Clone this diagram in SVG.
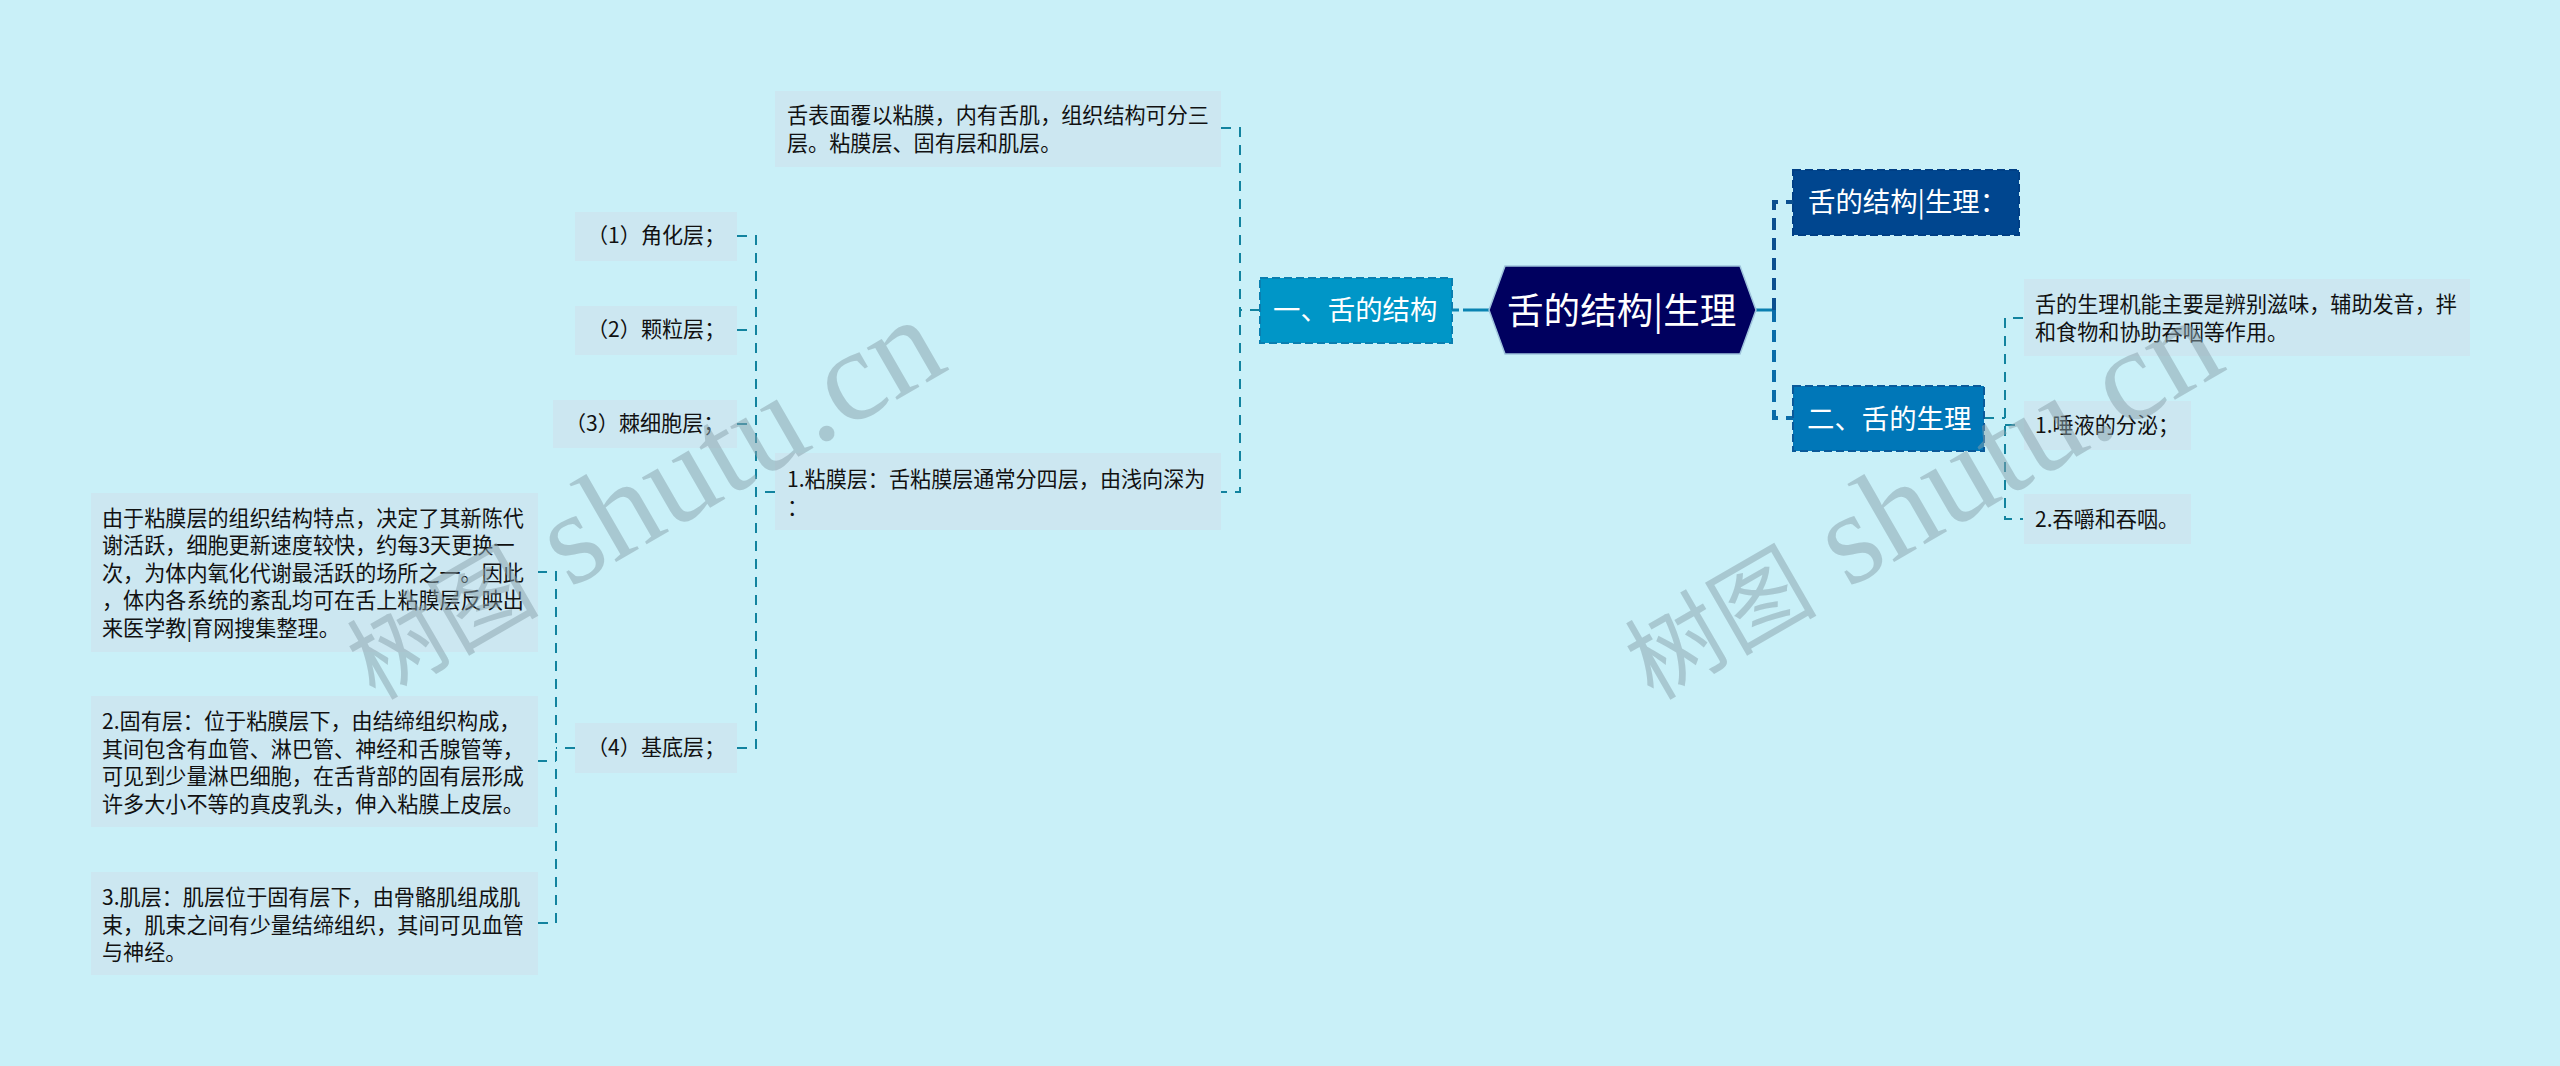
<svg xmlns="http://www.w3.org/2000/svg" width="2560" height="1066" viewBox="0 0 2560 1066">
<style>
text{font-family:"Noto Sans CJK SC","Noto Sans",sans-serif}
.leaf rect{fill:#cce7f1}
.leaf text{font-size:21.1px;fill:#111}
.main text{fill:#fff;font-size:27.4px}
.main rect{stroke-width:2;stroke-dasharray:8 4}
.thin{fill:none;stroke:#12839f;stroke-width:2;stroke-dasharray:10 8}
.wm{fill:#89a2ac;opacity:.5}
.wm .cjk{font-family:"Noto Sans CJK SC",sans-serif;font-size:96px}
.wm .lat{font-family:"Liberation Serif",serif;font-size:131px}
</style>
<rect width="2560" height="1066" fill="#c9f0f8"/>
<g id="connectors">
<path d="M1452 310H1489" fill="none" stroke="#0a84b2" stroke-width="3" stroke-dasharray="7 4 30 0"/>
<path d="M1756 310H1774" fill="none" stroke="#0a7fb0" stroke-width="3"/>
<path d="M1774 310V202H1793" fill="none" stroke="#0b4f8f" stroke-width="4" stroke-dasharray="12 8"/>
<path d="M1774 310V418H1793" fill="none" stroke="#0a6ca8" stroke-width="4" stroke-dasharray="12 8"/>
<path class="thin" d="M1260 310H1240"/>
<path class="thin" d="M1221 128H1240V492H1221"/>
<path class="thin" d="M775 492H756"/>
<path class="thin" d="M737 236H756V748H737"/>
<path class="thin" d="M737 330H756"/>
<path class="thin" d="M737 424H756"/>
<path class="thin" d="M575 748H556"/>
<path class="thin" d="M537 572H556V923H537"/>
<path class="thin" d="M537 761H556"/>
<path class="thin" d="M1984 418H2005"/>
<path class="thin" d="M2023 318H2005V519H2023"/>
<path class="thin" d="M2005 425H2023"/>
</g>
<g id="root"><polygon points="1505,266 1740,266 1756,310 1740,354 1505,354 1489,310" fill="#00005f" stroke="#9fc4dc" stroke-width="1.5"/><text x="1507" y="324" font-size="36.6" fill="#fff">舌的结构|生理</text></g>
<g id="n-a" class="main"><rect x="1793" y="170" width="226" height="65" fill="#00468f" stroke="#003f85"/><text x="1808" y="212">舌的结构|生理：</text></g>
<g id="n-b" class="main"><rect x="1793" y="386" width="191" height="65" fill="#0077b8" stroke="#0a5a9a"/><text x="1807" y="429">二、舌的生理</text></g>
<g id="n-c" class="main"><rect x="1260" y="278" width="192" height="65" fill="#0096c7" stroke="#0a7fb0"/><text x="1273" y="320">一、舌的结构</text></g>
<g id="b1" class="leaf"><rect x="2024" y="279" width="446" height="77"/><text x="2035" y="312">舌的生理机能主要是辨别滋味，辅助发音，拌</text><text x="2035" y="340">和食物和协助吞咽等作用。</text></g>
<g id="b2" class="leaf"><rect x="2024" y="401" width="167" height="49"/><text x="2035" y="433">1.唾液的分泌；</text></g>
<g id="b3" class="leaf"><rect x="2024" y="494" width="167" height="50"/><text x="2035" y="527">2.吞嚼和吞咽。</text></g>
<g id="c1" class="leaf"><rect x="775" y="91" width="446" height="76"/><text x="787" y="123">舌表面覆以粘膜，内有舌肌，组织结构可分三</text><text x="787" y="151">层。粘膜层、固有层和肌层。</text></g>
<g id="c2" class="leaf"><rect x="775" y="453" width="446" height="77"/><text x="787" y="487">1.粘膜层：舌粘膜层通常分四层，由浅向深为</text><text x="787" y="515">：</text></g>
<g id="d1" class="leaf"><rect x="575" y="212" width="162" height="49"/><text x="587" y="243">（1）角化层；</text></g>
<g id="d2" class="leaf"><rect x="575" y="306" width="162" height="49"/><text x="587" y="337">（2）颗粒层；</text></g>
<g id="d3" class="leaf"><rect x="553" y="400" width="184" height="48"/><text x="565" y="431">（3）棘细胞层；</text></g>
<g id="d4" class="leaf"><rect x="575" y="723" width="162" height="50"/><text x="587" y="755">（4）基底层；</text></g>
<g id="e1" class="leaf"><rect x="91" y="493" width="447" height="159"/><text x="102" y="526">由于粘膜层的组织结构特点，决定了其新陈代</text><text x="102" y="553">谢活跃，细胞更新速度较快，约每3天更换一</text><text x="102" y="581">次，为体内氧化代谢最活跃的场所之一。因此</text><text x="102" y="608">，体内各系统的紊乱均可在舌上粘膜层反映出</text><text x="102" y="636">来医学教|育网搜集整理。</text></g>
<g id="e2" class="leaf"><rect x="91" y="696" width="447" height="131"/><text x="102" y="729">2.固有层：位于粘膜层下，由结缔组织构成，</text><text x="102" y="757">其间包含有血管、淋巴管、神经和舌腺管等，</text><text x="102" y="784">可见到少量淋巴细胞，在舌背部的固有层形成</text><text x="102" y="812">许多大小不等的真皮乳头，伸入粘膜上皮层。</text></g>
<g id="e3" class="leaf"><rect x="91" y="872" width="447" height="103"/><text x="102" y="905">3.肌层：肌层位于固有层下，由骨骼肌组成肌</text><text x="102" y="933">束，肌束之间有少量结缔组织，其间可见血管</text><text x="102" y="960">与神经。</text></g>
<text class="wm" transform="translate(375 701) rotate(-30)"><tspan class="cjk">树图</tspan><tspan class="lat"> shutu.cn</tspan></text>
<text class="wm" transform="translate(1653 701) rotate(-30)"><tspan class="cjk">树图</tspan><tspan class="lat"> shutu.cn</tspan></text>
</svg>
